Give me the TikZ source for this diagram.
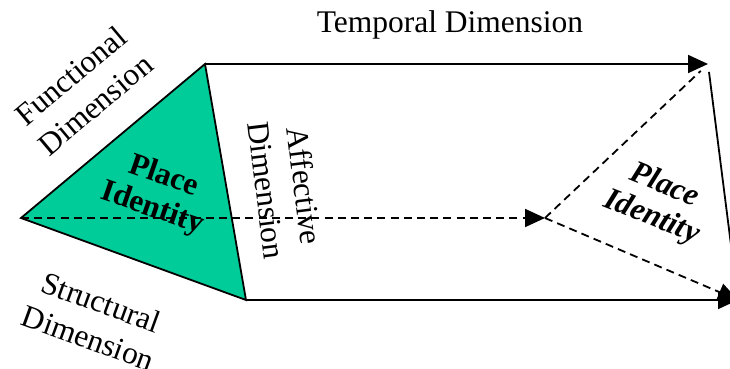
\documentclass[tikz,border=0pt]{standalone}
\usepackage{fontspec}
\setmainfont{Liberation Serif}
\usepackage{xcolor}
\usepackage{tikz}
\usetikzlibrary{arrows.meta}
\definecolor{greenfill}{HTML}{00CC99}
\definecolor{blackmain}{HTML}{000000}
\tikzset{every node/.append style={font=\fontsize{15.75}{19}\selectfont,align=center,inner sep=0pt}}
\tikzset{edge/.style={blackmain,line width=0.9pt},
  dashedge/.style={edge,dash pattern=on 4pt off 2.6pt},
  tip/.style={-{Triangle[length=10pt,width=9pt]}}}

\begin{document}
\begin{tikzpicture}[x=0.5pt,y=-0.5pt]
\useasboundingbox (0,0) rectangle (730,369);
\clip (0,0) rectangle (730,369);
\coordinate (L) at (21,218); \coordinate (T) at (205,64); \coordinate (B) at (246,300);
\coordinate (T2) at (708,64); \coordinate (M) at (545,218); \coordinate (B2) at (738,300);
\fill[greenfill] (L)--(T)--(B)--cycle;
\draw[edge] (L)--(T)--(B)--cycle;
\draw[dashedge,tip] (L)--(M);
\draw[dashedge,shorten >=5pt] (M)--(T2);
\draw[dashedge,tip] (M)--(B2);
\draw[edge,shorten <=4pt] (T2)--(B2);
\draw[edge,tip] (T)--(T2);
\draw[edge,tip] (B)--(B2);
\node[anchor=base] (tempdim) at (450,33) {Temporal Dimension};
\node[rotate=40] (funcdim) at (83,90) {Functional\\Dimension};
\node[rotate=-20] (structdim) at (95,320) {Structural\\Dimension};
\node[rotate=-83] (affdim) at (286,188) {Affective\\Dimension};
\node[rotate=-19,font=\fontsize{15.75}{17}\selectfont\bfseries] (placeL) at (158,193) {Place\\Identity};
\node[rotate=-22,font=\fontsize{15.75}{17}\selectfont\bfseries\itshape] (placeR) at (658,202) {Place\\Identity};
\end{tikzpicture}
\end{document}
